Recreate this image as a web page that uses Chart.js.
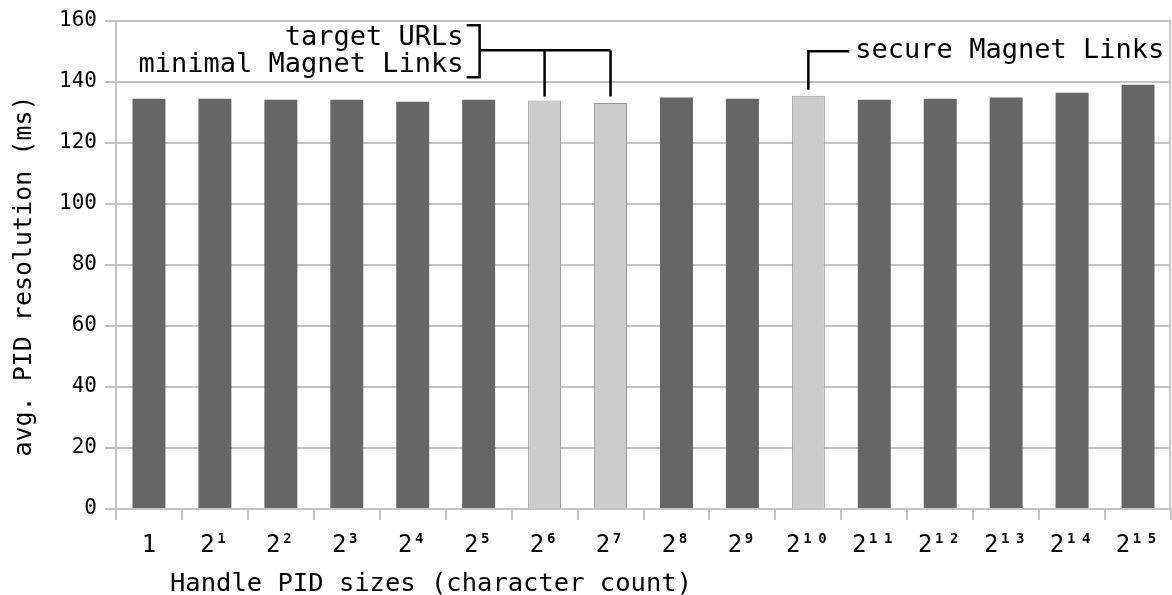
<!DOCTYPE html>
<html>
<head>
<meta charset="utf-8">
<script src="https://cdn.jsdelivr.net/npm/chart.js@4/dist/chart.umd.min.js"></script>
<style>
  html, body { margin: 0; padding: 0; background: #fff; }
  #wrap { width: 1172px; height: 595px; }
</style>
</head>
<body>
<div id="wrap"><canvas id="pidChart" width="1172" height="595"></canvas></div>
<script>
// handle sizes are powers of two (exponent 0 is printed as plain "1")
const sizeExponents = [0, 1, 2, 3, 4, 5, 6, 7, 8, 9, 10, 11, 12, 13, 14, 15];
// mean resolution time in ms for each size
const resolutionMs = [134.4, 134.4, 134.1, 134.1, 133.4, 134.1, 133.8, 133.0, 134.8, 134.4, 135.4, 134.1, 134.4, 134.8, 136.4, 139.0];
const highlighted = [6, 7, 10];
const yTicks = [0, 20, 40, 60, 80, 100, 120, 140, 160];

const SUP = '⁰¹²³⁴⁵⁶⁷⁸⁹';
const sizeLabels = sizeExponents.map(e => e === 0 ? '1' : '2' + String(e).split('').map(d => SUP[d]).join(''));

const MONO = '"DejaVu Sans Mono", "Liberation Mono", monospace';
const GRID = '#c4c4c4';

const barColors = resolutionMs.map((v, i) => highlighted.includes(i) ? '#cccccc' : '#666666');
const barBorders = resolutionMs.map((v, i) => highlighted.includes(i) ? 1 : 0);

// x labels: "2" plus a bold raised exponent, one monospace cell per character
const sizeLabelPlugin = {
  id: 'sizeLabels',
  afterDraw(chart) {
    const { ctx } = chart;
    const x = chart.scales.x;
    const cell = 15;
    ctx.save();
    ctx.fillStyle = '#000';
    ctx.textAlign = 'center';
    ctx.textBaseline = 'alphabetic';
    sizeExponents.forEach((e, i) => {
      const cx = x.getPixelForValue(i);
      if (e === 0) {
        ctx.font = '24px ' + MONO;
        ctx.fillText('1', cx, 552);
        return;
      }
      const digits = String(e).split('');
      const left = cx - (digits.length + 1) * cell / 2;
      ctx.font = '24px ' + MONO;
      ctx.fillText('2', left + cell / 2, 552);
      ctx.font = 'bold 14px ' + MONO;
      digits.forEach((d, k) => ctx.fillText(d, left + cell * (k + 1.5) - 1, 543));
    });
    ctx.restore();
  }
};

// callouts, axis titles and the right-hand frame line
const calloutPlugin = {
  id: 'callouts',
  afterDraw(chart) {
    const { ctx, chartArea } = chart;
    const x = chart.scales.x, y = chart.scales.y;
    ctx.save();

    ctx.strokeStyle = GRID;
    ctx.lineWidth = 2;
    ctx.beginPath();
    ctx.moveTo(chartArea.right - 1, chartArea.top);
    ctx.lineTo(chartArea.right - 1, chartArea.bottom);
    ctx.stroke();

    ctx.strokeStyle = '#000';
    ctx.fillStyle = '#000';
    ctx.lineWidth = 2.5;
    ctx.font = '27px ' + MONO;
    ctx.textBaseline = 'middle';

    // bracketed pair: target URLs / minimal Magnet Links
    const xa = x.getPixelForValue(6), xb = x.getPixelForValue(7);
    const lineY = y.getPixelForValue(150.3);
    const endY = Math.min(y.getPixelForValue(resolutionMs[6]), y.getPixelForValue(resolutionMs[7])) - 4;
    const bx = xa - 65;
    ctx.beginPath();
    ctx.moveTo(bx - 13, lineY - 25); ctx.lineTo(bx, lineY - 25); ctx.lineTo(bx, lineY + 27); ctx.lineTo(bx - 13, lineY + 27);
    ctx.moveTo(bx, lineY); ctx.lineTo(xb, lineY);
    ctx.moveTo(xa, lineY); ctx.lineTo(xa, endY);
    ctx.moveTo(xb, lineY); ctx.lineTo(xb, endY);
    ctx.stroke();
    ctx.textAlign = 'right';
    ctx.fillText('target URLs', bx - 16, lineY - 12);
    ctx.fillText('minimal Magnet Links', bx - 16, lineY + 15);

    // single callout: secure Magnet Links
    const xs = x.getPixelForValue(10);
    const sy = y.getPixelForValue(150.0);
    ctx.beginPath();
    ctx.moveTo(xs, y.getPixelForValue(resolutionMs[10]) - 6);
    ctx.lineTo(xs, sy);
    ctx.lineTo(xs + 41, sy);
    ctx.stroke();
    ctx.textAlign = 'left';
    ctx.fillText('secure Magnet Links', xs + 47, sy);

    // axis titles
    ctx.font = '25.5px ' + MONO;
    ctx.fillText('Handle PID sizes (character count)', chartArea.left + 54, 584);
    ctx.font = '25px ' + MONO;
    ctx.translate(24, 276);
    ctx.rotate(-Math.PI / 2);
    ctx.textAlign = 'center';
    ctx.fillText('avg. PID resolution (ms)', 0, 0);
    ctx.restore();
  }
};

new Chart(document.getElementById('pidChart'), {
  type: 'bar',
  data: {
    labels: sizeLabels,
    datasets: [{
      data: resolutionMs,
      backgroundColor: barColors,
      borderColor: '#9a9a9a',
      borderWidth: barBorders,
      barPercentage: 0.5,
      categoryPercentage: 1.0
    }]
  },
  options: {
    responsive: false,
    animation: false,
    events: [],
    layout: { padding: { top: 20, right: 1, left: 0, bottom: 0 } },
    plugins: {
      legend: { display: false },
      tooltip: { enabled: false }
    },
    scales: {
      x: {
        grid: { offset: true, drawOnChartArea: false, color: GRID, lineWidth: 2, tickLength: 11 },
        border: { color: GRID, width: 2 },
        ticks: { display: false },
        afterFit(s) { s.height = 86; }
      },
      y: {
        min: 0,
        max: 160,
        afterBuildTicks(s) { s.ticks = yTicks.map(v => ({ value: v })); },
        grid: { color: GRID, lineWidth: 2, tickLength: 11 },
        border: { color: GRID, width: 2 },
        ticks: { color: '#000', font: { family: MONO, size: 21 }, padding: 8 },
        afterFit(s) { s.width = 116; }
      }
    }
  },
  plugins: [sizeLabelPlugin, calloutPlugin]
});
</script>
</body>
</html>
